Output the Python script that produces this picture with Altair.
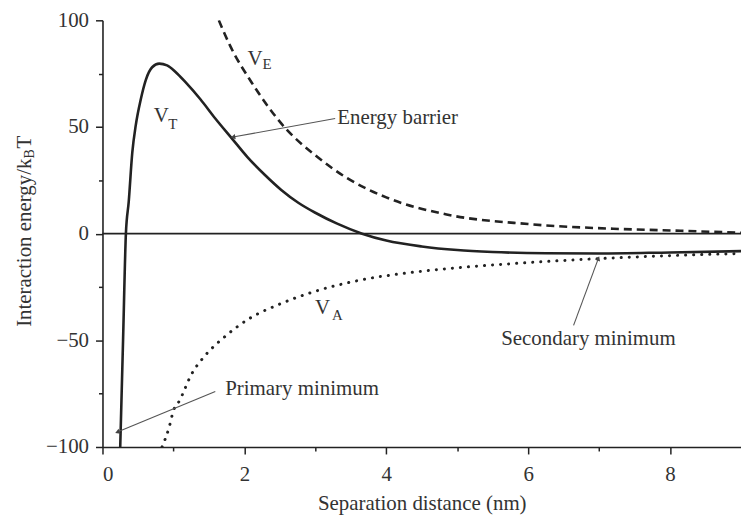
import altair as alt
import pandas as pd

# ---- data ----
vt_x = [0.25, 0.29, 0.33, 0.37, 0.42, 0.47, 0.54, 0.61, 0.70, 0.80, 0.91, 1.03, 1.17, 1.38,
        1.59, 1.82, 2.04, 2.29, 2.52, 2.76, 3.00, 3.30, 3.66, 4.00, 4.50, 5.00, 5.50, 6.25, 7.00, 8.00, 9.00]
vt_y = [-100, -50, 0, 15, 38, 51, 63, 72, 78, 79.7, 78.9, 75.8, 71, 63,
        54, 44.8, 36, 27.5, 20.5, 14.5, 9.8, 4.8, 0, -3.2, -6, -7.7, -8.6, -9.2, -9.3, -8.8, -8.2]

ve_x = [1.64, 1.80, 2.10, 2.59, 2.99, 3.45, 4.00, 4.85, 6.00, 7.20, 8.00, 9.00]
ve_y = [100, 88, 71, 49, 37, 26, 17, 9, 4.5, 2.3, 1.5, 0.4]

va_x = [0.84, 0.94, 1.00, 1.08, 1.26, 1.45, 1.70, 2.06, 2.50, 3.00, 3.60, 4.40, 5.00, 5.80, 7.00, 8.00, 9.00]
va_y = [-100, -90.7, -83, -78.6, -65.6, -57, -49, -40, -33, -27, -22, -18, -16, -14, -11.7, -10.3, -9.3]

x_ticks = [0, 1, 2, 3, 4, 5, 6, 7, 8]
y_ticks = [-100, -75, -50, -25, 0, 25, 50, 75, 100]

curve_names = ["V", "V", "V"]
curve_subs = ["T", "E", "A"]
name_x = [0.83, 2.15, 3.10]
name_y = [55, 82, -34.7]
sub_x = [0.99, 2.32, 3.31]
sub_y = [51.4, 79.5, -38]

note_text = ["Energy barrier", "Primary minimum", "Secondary minimum"]
note_x = [3.31, 1.73, 6.85]
note_y = [54, -73, -49.5]
note_align = ["left", "left", "center"]
arrow_x0 = [3.28, 1.59, 6.64]
arrow_y0 = [54, -74, -43]
arrow_x1 = [1.84, 0.21, 6.99]
arrow_y1 = [45.3, -93, -11.6]
arrow_shape = ["triangle-left", "triangle-left", "triangle-up"]
arrow_angle = [350, 338, 20]

FONT = "Liberation Serif"
INK = "#222222"
TXT = "#333333"
FS = 21

xs = alt.Scale(domain=[0, 9], nice=False, zero=False)
ys = alt.Scale(domain=[-100, 100], nice=False, zero=False)

x_axis = alt.Axis(values=x_ticks, labelExpr="datum.value % 2 == 0 ? datum.label : ''",
                  title="Separation distance (nm)", grid=False,
                  tickSize={"condition": {"test": "datum.value % 2 === 0", "value": 7}, "value": 4},
                  labelPadding=10, titlePadding=8)
y_axis = alt.Axis(values=y_ticks, labelExpr="datum.value % 50 == 0 ? datum.label : ''",
                  title="", grid=False,
                  tickSize={"condition": {"test": "datum.value % 50 === 0", "value": 7}, "value": 4},
                  labelPadding=7)


def X(f):
    return alt.X(f, scale=xs, axis=x_axis, title="Separation distance (nm)")


def Y(f):
    return alt.Y(f, scale=ys, axis=y_axis, title="")


vt = pd.DataFrame({"x": vt_x, "y": vt_y})
ve = pd.DataFrame({"x": ve_x, "y": ve_y})
va = pd.DataFrame({"x": va_x, "y": va_y})

l_vt = alt.Chart(vt).mark_line(color=INK, strokeWidth=2.6, interpolate="monotone", clip=True).encode(
    x=X("x:Q"), y=Y("y:Q"))
l_ve = alt.Chart(ve).mark_line(color=INK, strokeWidth=2.6, strokeDash=[8, 5], interpolate="monotone",
                               clip=True).encode(x=X("x:Q"), y=Y("y:Q"))
l_va = alt.Chart(va).mark_line(color=INK, strokeWidth=3, strokeDash=[0.1, 8], strokeCap="round",
                               interpolate="monotone", clip=True).encode(x=X("x:Q"), y=Y("y:Q"))

zero = alt.Chart(pd.DataFrame({"x": [0], "x2": [9], "y": [0]})).mark_rule(color=INK, strokeWidth=1.6).encode(
    x=X("x:Q"), x2="x2:Q", y=Y("y:Q"))

names = pd.DataFrame({"x": name_x, "y": name_y, "t": curve_names})
subs = pd.DataFrame({"x": sub_x, "y": sub_y, "t": curve_subs})
t_names = alt.Chart(names).mark_text(font=FONT, fontSize=21, color=TXT, align="center", baseline="middle").encode(
    x=X("x:Q"), y=Y("y:Q"), text="t:N")
t_subs = alt.Chart(subs).mark_text(font=FONT, fontSize=15, color=TXT, align="center", baseline="middle").encode(
    x=X("x:Q"), y=Y("y:Q"), text="t:N")

notes = pd.DataFrame({"x": note_x, "y": note_y, "t": note_text, "a": note_align})
t_notes = []
for al in ["left", "center"]:
    t_notes.append(alt.Chart(notes[notes.a == al]).mark_text(font=FONT, fontSize=FS, color=TXT, align=al,
                                                             baseline="middle").encode(
        x=X("x:Q"), y=Y("y:Q"), text="t:N"))

arrows = pd.DataFrame({"x": arrow_x0, "y": arrow_y0, "x2": arrow_x1, "y2": arrow_y1})
a_lines = alt.Chart(arrows).mark_rule(color="#555555", strokeWidth=1.1).encode(
    x=X("x:Q"), y=Y("y:Q"), x2="x2:Q", y2="y2:Q")
a_heads = []
for i in range(len(arrow_x1)):
    one = pd.DataFrame({"x": [arrow_x1[i]], "y": [arrow_y1[i]]})
    a_heads.append(alt.Chart(one).mark_point(shape=arrow_shape[i], angle=arrow_angle[i], filled=True,
                                             size=28, color="#444444", opacity=1).encode(
        x=X("x:Q"), y=Y("y:Q")))

# y-axis title with subscript, built from rotated text pieces
ytitle = alt.Chart(pd.DataFrame({"t": ["Interaction energy/k"]})).mark_text(
    font=FONT, fontSize=FS, color=TXT, angle=270, align="right", baseline="middle").encode(
    x=alt.value(-78), y=alt.value(139), text="t:N")
ytitle_b = alt.Chart(pd.DataFrame({"t": ["B"]})).mark_text(
    font=FONT, fontSize=14, color=TXT, angle=270, align="left", baseline="middle", dy=5).encode(
    x=alt.value(-78), y=alt.value(139), text="t:N")
ytitle_t = alt.Chart(pd.DataFrame({"t": ["T"]})).mark_text(
    font=FONT, fontSize=FS, color=TXT, angle=270, align="left", baseline="middle", dx=10).encode(
    x=alt.value(-78), y=alt.value(139), text="t:N")

chart = alt.layer(zero, l_va, l_ve, l_vt, t_names, t_subs, *t_notes, a_lines, *a_heads,
                  ytitle, ytitle_b, ytitle_t).properties(
    width=642, height=429,
    autosize=alt.AutoSizeParams(type="none"),
    padding={"left": 95, "top": 11, "right": 0, "bottom": 68},
).configure_view(stroke=None).configure_axis(
    domainColor=INK, domainWidth=1.6, tickColor=INK, tickWidth=1.5,
    labelFont=FONT, labelFontSize=FS, labelColor=TXT,
    titleFont=FONT, titleFontSize=FS, titleFontWeight="normal", titleColor=TXT,
)

chart.save("out.html", embed_options={"renderer": "svg", "actions": False})
